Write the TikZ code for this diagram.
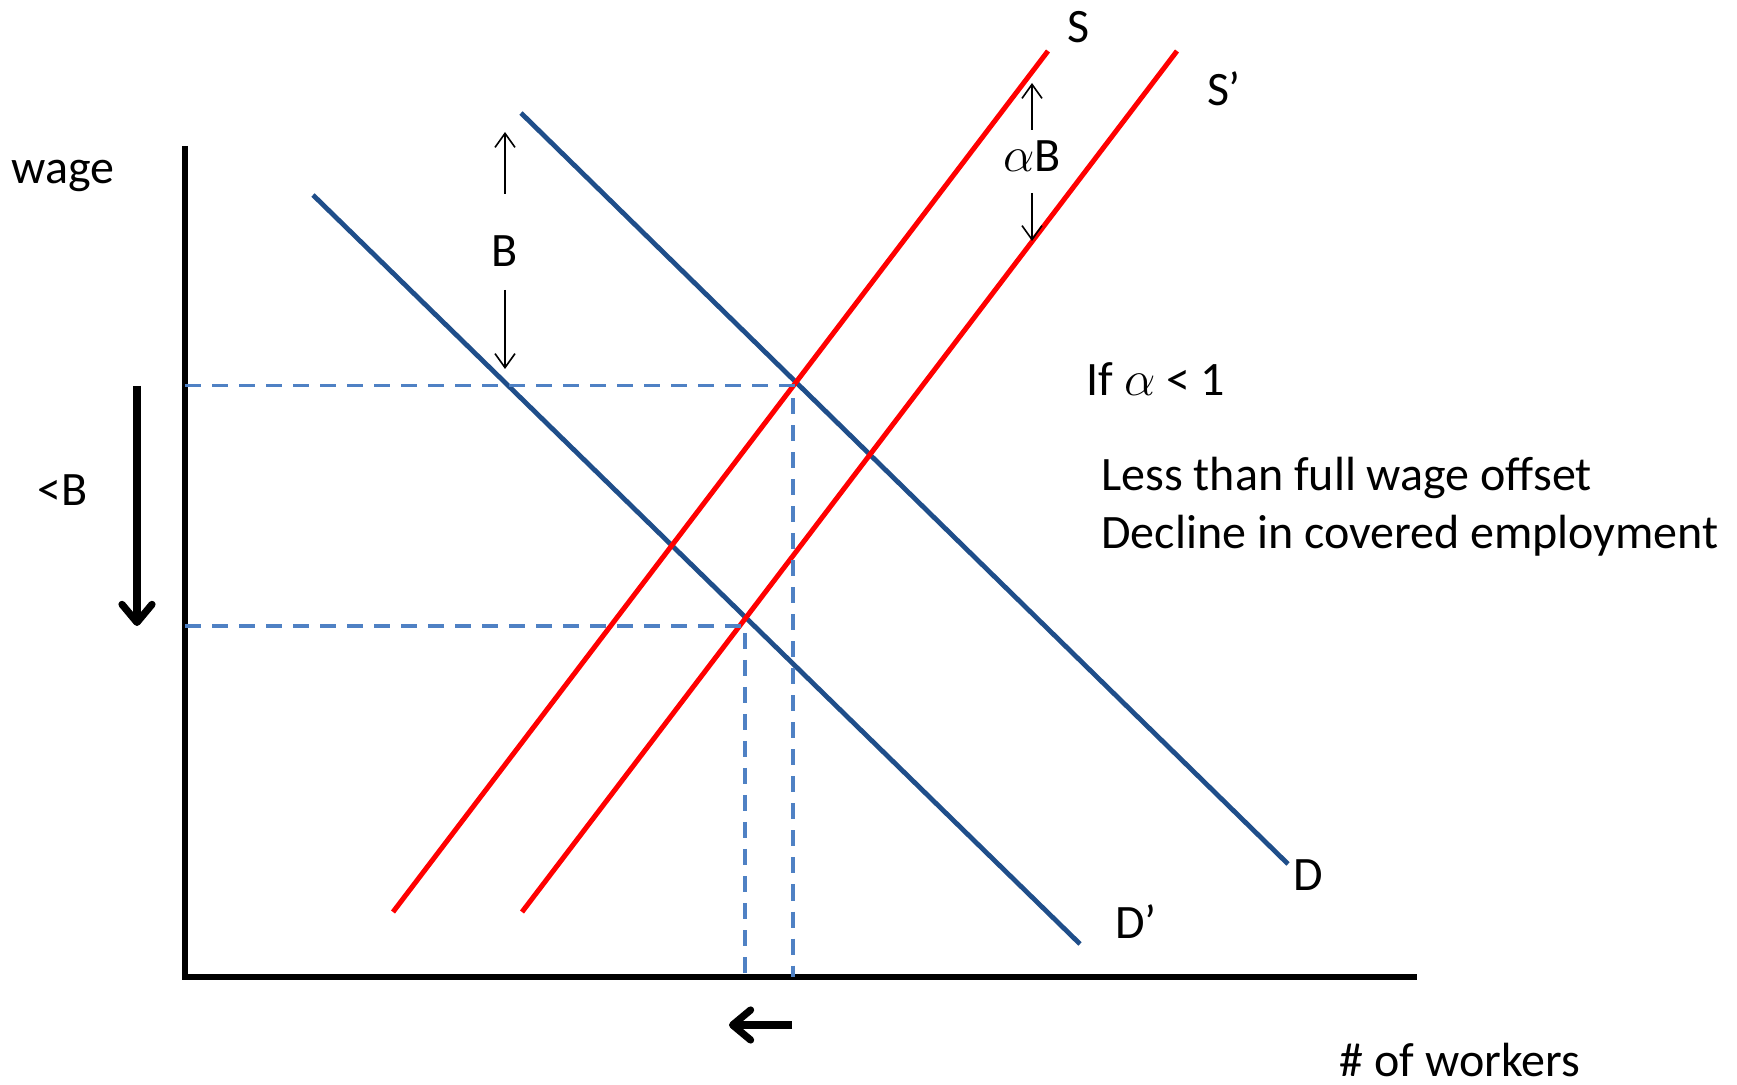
\documentclass[tikz,border=0pt]{standalone}
\usepackage{fontspec}
\setmainfont{Carlito}
\usetikzlibrary{arrows.meta}
\definecolor{demand-blue}{HTML}{1F4E8A}
\definecolor{guide-blue}{HTML}{4F81C4}

\begin{document}
\begin{tikzpicture}[x=0.5pt, y=-0.5pt,
      every node/.style={font=\fontsize{24}{29}\selectfont, inner sep=0pt},
      demand/.style={draw=demand-blue, line width=2.4pt},
      supply/.style={draw=red, line width=2.5pt},
      guide/.style={draw=guide-blue, line width=1.6pt, dash pattern=on 8pt off 5.5pt},
      gap/.style={-{Straight Barb[length=7pt, width=10pt]}, line width=0.8pt},
      netshift/.style={-{Straight Barb[length=9pt, width=15pt, round]}, line width=3.6pt}]
    \useasboundingbox (0,0) rectangle (1737,1085);
    % axes
    \coordinate (O) at (185,977);
    \coordinate (Ytop) at (185,146);
    \coordinate (Xend) at (1417,977);
    \draw[line width=3.2pt] (Ytop) -- (O) -- (Xend);
    \node (wage) at (63,176) {wage};
    \node (workers) at (1460,1060) {\# of workers};
    % demand and supply curves
    \coordinate (D1) at (521,113);
    \coordinate (D2) at (1288,864);
    \coordinate (Dp1) at (313,195);
    \coordinate (Dp2) at (1080,944);
    \coordinate (S1) at (393,912);
    \coordinate (S2) at (1048,51);
    \coordinate (Sp1) at (522,912);
    \coordinate (Sp2) at (1177,51);
    \draw[demand] (D1) -- (D2);
    \draw[demand] (Dp1) -- (Dp2);
    \draw[supply] (S1) -- (S2);
    \draw[supply] (Sp1) -- (Sp2);
    \node (labS) at (1079,27) {S};
    \node (labSp) at (1224,89) {S’};
    \node (labD) at (1308,875) {D};
    \node (labDp) at (1136,922) {D’};
    % equilibria and guides
    \coordinate (E0) at (793,385.5);
    \coordinate (E1) at (745,626);
    \draw[guide] (O |- E0) -- (E0) -- (E0 |- O);
    \draw[guide] (O |- E1) -- (E1) -- (E1 |- O);
    % shift of demand by B
    \node (labB) at (505,251) {B};
    \coordinate (Bup) at (505,132);
    \coordinate (Bdown) at (505,369);
    \draw[gap] (505,194) -- (Bup);
    \draw[gap] (505,290) -- (Bdown);
    % shift of supply by alpha B
    \node (labaB) at (1032,156) {$\alpha$B};
    \coordinate (aBup) at (1032,83);
    \coordinate (aBdown) at (1032,241);
    \draw[gap] (1032,130) -- (aBup);
    \draw[gap] (1032,193) -- (aBdown);
    % net changes
    \node (lessB) at (63,490) {<B};
    \coordinate (wtop) at (137,386);
    \coordinate (wbot) at (137,626);
    \draw[netshift] (wtop) -- (wbot);
    \coordinate (ntail) at (792,1025);
    \coordinate (nhead) at (729,1025);
    \draw[netshift] (ntail) -- (nhead);
    \node[anchor=west] (cond) at (1086,379) {If $\alpha$ < 1};
    \node[anchor=west, align=left] (result) at (1101,507) {Less than full wage offset\\Decline in covered employment};
  \end{tikzpicture}
\end{document}
